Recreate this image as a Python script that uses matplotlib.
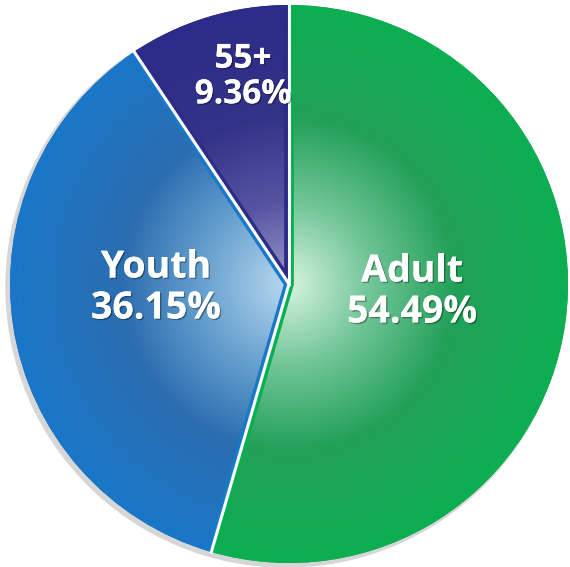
import matplotlib.pyplot as plt
import matplotlib.patheffects as pe
from matplotlib.colors import to_rgb
import numpy as np

labels = ["Adult", "Youth", "55+"]
shares = [54.49, 36.15, 9.36]
# colour stops along the radius (centre -> rim)
stops_r = [0.0, 0.3, 0.6, 1.0]
stops = [
    ["#d6f3de", "#6fc496", "#22a058", "#0dae52"],
    ["#b9d9ef", "#6aa3d0", "#2b6db0", "#1a77c7"],
    ["#9c98c8", "#5654a2", "#333388", "#2c2c88"],
]
rim_colors = ["#06b052", "#1878c9", "#2c2c88"]

W, H = 570, 567
cx, cy, R = 289, 283, 279

fig = plt.figure(figsize=(W / 100, H / 100), dpi=100)
ax = fig.add_axes([0, 0, 1, 1])

# soft shadow behind the pie
ax.add_patch(plt.Circle((cx - 3, cy - 3), R + 1, color="#d6d6d6", zorder=0))

wedges, _ = ax.pie(shares, startangle=90, counterclock=False,
                   center=(cx, cy), radius=R, colors=rim_colors,
                   wedgeprops=dict(edgecolor="none"), frame=True)

n = 500
xs = np.linspace(cx - R, cx + R, n)
ys = np.linspace(cy - R, cy + R, n)
gx, gy = np.meshgrid(xs, ys)
rr = np.clip(np.hypot(gx - cx, gy - cy) / R, 0, 1)

for w, st, rim in zip(wedges, stops, rim_colors):
    rgb = np.array([to_rgb(c) for c in st])
    img = np.dstack([np.interp(rr, stops_r, rgb[:, k]) for k in range(3)])
    im = ax.imshow(img, extent=(cx - R, cx + R, cy - R, cy + R),
                   origin="lower", zorder=2, interpolation="bilinear")
    im.set_clip_path(w)
    # bright stripe along the straight edges
    th1, th2 = np.deg2rad(w.theta1), np.deg2rad(w.theta2)
    px = [cx + R * np.cos(th1), cx, cx + R * np.cos(th2)]
    py = [cy + R * np.sin(th1), cy, cy + R * np.sin(th2)]
    ln, = ax.plot(px, py, color=rim, lw=7, zorder=3, solid_joinstyle="miter")
    ln.set_clip_path(w)

# white separators
for w in wedges:
    th = np.deg2rad(w.theta1)
    ax.plot([cx, cx + R * np.cos(th)], [cy, cy + R * np.sin(th)],
            color="white", lw=2.2, zorder=4)

ax.set_xlim(0, W)
ax.set_ylim(0, H)
ax.axis("off")

shadow_fx = [pe.withSimplePatchShadow(offset=(1, -1), shadow_rgbFace="black", alpha=0.35),
             pe.Normal()]
label_pos = [(412, H - 292), (156, H - 288), (243, H - 77)]
sizes = [27, 27, 24]
for lab, val, (x, y), fs in zip(labels, shares, label_pos, sizes):
    ax.text(x, y, f"{lab}\n{val:.2f}%", ha="center", va="center",
            fontsize=fs, fontweight="bold", color="white",
            family="Open Sans", linespacing=1.1, zorder=10,
            path_effects=shadow_fx)

fig.savefig("out.png", dpi=100, facecolor="white")
plt.close(fig)
